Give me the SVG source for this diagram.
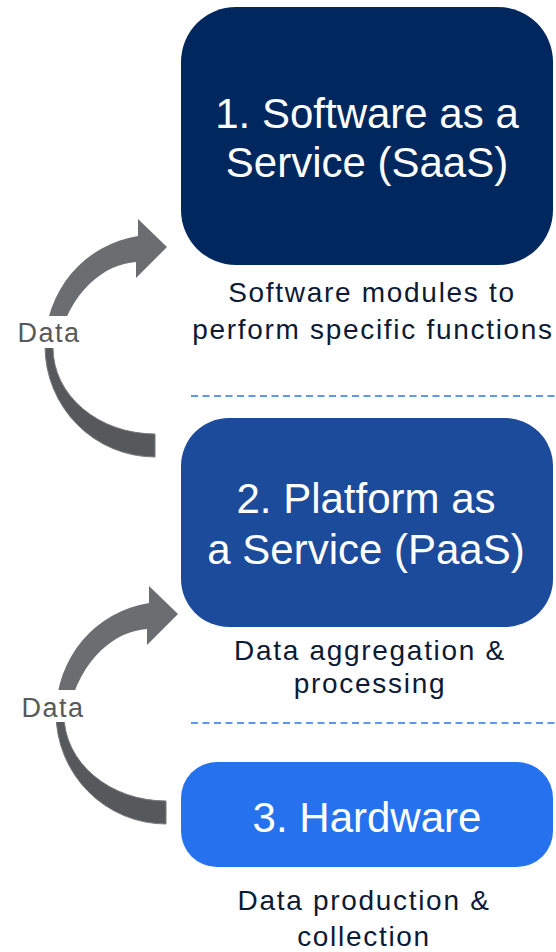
<svg xmlns="http://www.w3.org/2000/svg" width="556" height="952" viewBox="0 0 556 952">
<style>
.title{font-family:"Liberation Sans",Arial,sans-serif;font-size:42px;fill:#ffffff;text-anchor:middle}
.sub{font-family:"Liberation Sans",Arial,sans-serif;font-size:28px;letter-spacing:1.7px;fill:#0c1a35;text-anchor:middle}
.lbl{font-family:"Liberation Sans",Arial,sans-serif;font-size:27px;letter-spacing:1.5px;fill:#58595b;text-anchor:middle}
.front{fill:#6c6d71}
.back{fill:#57585c;stroke:#78797d;stroke-width:1}
.sep{stroke:#2b76e5;stroke-width:1.6;stroke-dasharray:7 4.5;fill:none}
</style>
<defs>
<g id="curved">
<path class="back" d="M 45 346 A 110 111 0 0 0 155 457 L 155 434 A 102 86 0 0 1 53 348 Z"/>
<path class="front" d="M 45 346 A 110 111 0 0 1 138 236 L 138 219 L 167 247 L 136 278 L 136 262 C 105 264 70 290 57 346 Z"/>
</g>
</defs>
<g id="separators">
<line class="sep" x1="191" y1="396" x2="556" y2="396"/>
<line class="sep" x1="191" y1="723" x2="556" y2="723"/>
</g>
<g id="connectors">
<use href="#curved"/>
<use href="#curved" transform="translate(11,367)"/>
</g>
<g id="label-data-1">
<rect x="12" y="316" width="74" height="32" fill="#ffffff"/>
<text class="lbl" x="49" y="342">Data</text>
</g>
<g id="label-data-2">
<rect x="16" y="690" width="74" height="32" fill="#ffffff"/>
<text class="lbl" x="53" y="717">Data</text>
</g>
<g id="saas">
<rect x="181" y="7" width="372" height="258" rx="55" fill="#00285e"/>
<text class="title" x="367" y="127.5">1. Software as a</text>
<text class="title" x="367" y="177">Service (SaaS)</text>
</g>
<g id="saas-desc">
<text class="sub" x="372" y="302">Software modules to</text>
<text class="sub" x="373" y="339">perform specific functions</text>
</g>
<g id="paas">
<rect x="181" y="418" width="372" height="209" rx="48" fill="#1d4b9b"/>
<text class="title" x="366" y="513">2. Platform as</text>
<text class="title" x="366" y="564">a Service (PaaS)</text>
</g>
<g id="paas-desc">
<text class="sub" x="370" y="659.5">Data aggregation &amp;</text>
<text class="sub" x="370" y="693">processing</text>
</g>
<g id="hardware">
<rect x="181" y="762" width="372" height="105" rx="36" fill="#2672ee"/>
<text class="title" x="367" y="832">3. Hardware</text>
</g>
<g id="hardware-desc">
<text class="sub" x="364" y="910">Data production &amp;</text>
<text class="sub" x="364" y="946">collection</text>
</g>
</svg>
